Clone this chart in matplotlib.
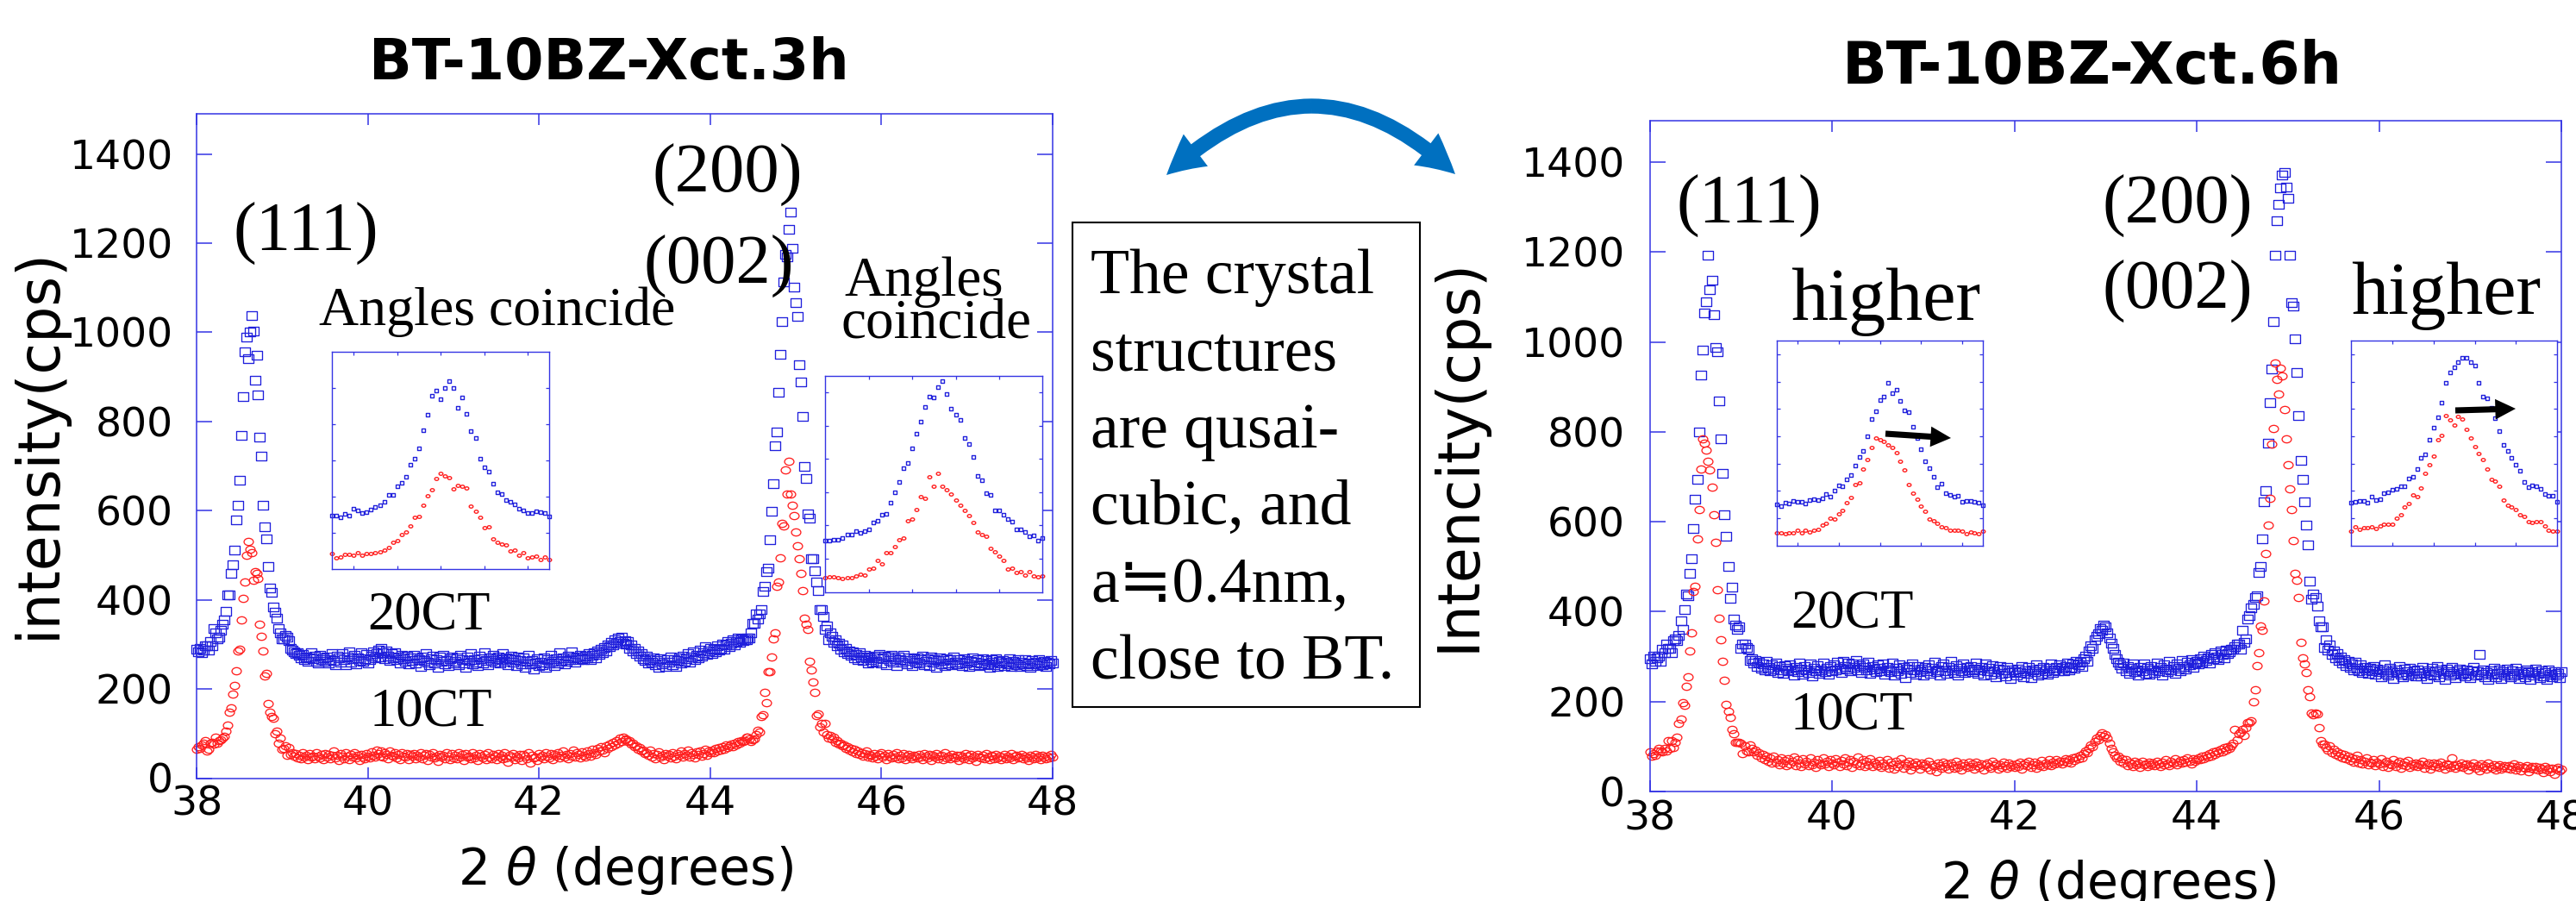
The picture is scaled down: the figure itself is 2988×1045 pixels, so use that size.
import numpy as np
import matplotlib
matplotlib.use("Agg")
import matplotlib.pyplot as plt
from matplotlib.path import Path
from matplotlib.transforms import Affine2D
from matplotlib.patches import FancyArrowPatch, Rectangle

W, H, DPI = 2988, 1045, 100

# scan grid, 0.02 deg step
two_theta = np.round(38.0 + 0.02 * np.arange(501), 2)

# BT-10BZ-Xct, 3 h
cps_3h_20ct = [
    290, 284, 292, 281, 288,
    # 38.10 - 39.10
    297, 297, 288, 307, 297, 335, 326, 312, 316, 331,
    345, 354, 374, 410, 410, 459, 478, 512, 579, 612,
    669, 769, 855, 957, 989, 941, 1000, 1038, 1003, 893,
    949, 860, 765, 723, 612, 563, 537, 474, 426, 416,
    383, 372, 359, 335, 326, 312, 312, 321, 316, 308,
    292,
    # 39.12 - 44.38
    288, 284, 279, 281, 275, 270, 278, 266, 272, 262, 270, 281, 268, 274, 262, 259, 276, 265, 270, 262,
    271, 258, 266, 280, 263, 255, 274, 269, 261, 279, 266, 254, 272, 283, 260, 268, 275, 257, 270, 264, 281, 262, 268, 277, 259,
    266, 274, 283, 270, 279, 288, 272, 291, 281, 268, 286, 274, 263, 279, 270, 282, 265, 272, 259, 276, 268, 262, 274, 257, 269,
    263, 275, 258, 270, 266, 251, 272, 264, 280, 260, 255, 268, 274, 259, 266, 249, 271, 262, 276, 257, 264, 253, 268, 272, 258,
    262, 270, 254, 276, 265, 258, 249, 271, 263, 279, 256, 266, 260, 252, 274, 268, 259, 281, 263, 255, 270, 264, 276, 261, 267,
    272, 258, 266, 279, 262, 270, 255, 268, 274, 260, 265, 252, 271, 263, 257, 269, 248, 262, 275, 256, 264, 244, 259, 268, 253,
    261, 255, 270, 249, 266, 258, 275, 262, 252, 268, 259, 281, 264, 270, 256, 262, 274, 266, 283, 270, 260, 271, 266, 276, 268,
    266, 274, 270, 279, 265, 275, 281, 270, 285, 277, 289, 282, 293, 286, 299, 294, 305, 299, 310, 303, 314, 306, 316, 302, 309,
    300, 306, 292, 299, 286, 291, 280, 285, 273, 279, 268, 263, 274, 258, 266, 261, 270, 254, 263, 249, 267, 256, 261, 251, 265,
    260, 272, 255, 266, 251, 263, 270, 258, 274, 262, 268, 279, 261, 271, 284, 266, 276, 270, 288, 274, 281, 295, 278, 286, 292,
    280, 289, 284, 296, 287, 292, 301, 290, 298, 306, 295, 303, 310, 299, 307, 314, 305, 312, 309,
    # 44.40 - 45.40
    311, 311, 314, 314, 326, 347, 347, 368, 357, 368,
    378, 418, 430, 464, 471, 535, 599, 661, 746, 777,
    865, 951, 1024, 1112, 1174, 1169, 1231, 1269, 1189, 1101,
    1067, 1036, 927, 889, 811, 699, 672, 592, 584, 492,
    492, 466, 440, 421, 378, 378, 363, 333, 342, 311,
    326,
    # 45.42 - 48.00
    318, 305, 311, 296, 302, 290, 298, 284, 291, 279, 286, 275, 283, 270, 278, 266, 281, 272, 263, 276, 269, 258, 272, 265, 261,
    274, 262, 270, 278, 259, 267, 273, 255, 271, 264, 276, 261, 268, 253, 272, 266, 260, 275, 264, 257, 270, 263, 252, 267, 261,
    269, 258, 265, 274, 255, 262, 267, 253, 271, 260, 266, 249, 263, 270, 257, 264, 252, 268, 259, 265, 254, 271, 261, 256, 266,
    260, 253, 267, 258, 264, 250, 262, 269, 255, 261, 266, 252, 259, 268, 254, 263, 257, 249, 265, 260, 254, 267, 251, 262, 258,
    264, 253, 260, 256, 267, 251, 262, 258, 254, 265, 250, 261, 257, 266, 253, 259, 248, 263, 256, 261, 252, 265, 258, 254, 262,
    251, 260, 256, 263, 259,
]

cps_3h_10ct = [
    64, 71, 66, 74, 79,
    84, 60, 65, 79, 81, 76, 92, 78, 84, 86,
    89, 94, 105, 119, 148, 157, 189, 207, 240, 285,
    289, 354, 404, 439, 499, 531, 513, 505, 443, 464,
    459, 448, 346, 318, 285, 229, 235, 167, 148, 138,
    134, 99, 106, 78, 89, 64, 67, 73, 52, 68,
    54,
    58, 49, 55, 46, 52, 44, 57, 48, 51, 42, 55, 47, 50, 43, 58, 49, 45, 53, 41, 56,
    48, 54, 43, 51, 60, 46, 52, 39, 55, 49, 44, 57, 50, 41, 53, 47, 58, 45, 51, 40, 54, 48, 43, 56, 50,
    45, 59, 52, 48, 63, 55, 50, 61, 47, 57, 53, 44, 60, 51, 49, 58, 46, 54, 42, 57, 50, 47, 55, 41, 53,
    49, 56, 44, 52, 47, 58, 43, 51, 55, 40, 53, 48, 57, 45, 50, 38, 54, 47, 52, 44, 58, 49, 42, 55, 46,
    51, 44, 57, 48, 53, 40, 55, 47, 50, 43, 58, 46, 52, 39, 56, 49, 45, 53, 41, 57, 48, 44, 54, 50, 42,
    55, 47, 51, 43, 58, 45, 36, 52, 48, 56, 42, 50, 46, 54, 40, 53, 49, 44, 57, 33, 51, 45, 48, 39, 55,
    47, 52, 44, 58, 50, 46, 55, 41, 53, 49, 57, 45, 51, 60, 48, 54, 43, 56, 50, 62, 47, 58, 53, 45, 59,
    52, 48, 61, 55, 50, 64, 57, 53, 66, 60, 70, 63, 58, 72, 67, 76, 71, 80, 74, 85, 79, 89, 83, 91, 86,
    88, 82, 84, 76, 79, 70, 73, 65, 68, 60, 63, 55, 58, 51, 62, 48, 56, 44, 53, 59, 47, 52, 41, 55, 49,
    54, 46, 58, 50, 43, 56, 52, 60, 47, 55, 51, 62, 48, 57, 53, 45, 59, 54, 61, 50, 56, 64, 52, 60, 58,
    63, 57, 66, 60, 69, 62, 71, 65, 74, 68, 72, 77, 70, 79, 75, 82, 78, 85, 83,
    85, 91, 91, 88, 83, 86, 88, 97, 107, 104,
    138, 143, 192, 169, 238, 238, 271, 312, 326, 430,
    440, 495, 571, 565, 691, 637, 711, 637, 613, 589,
    552, 521, 492, 459, 420, 359, 345, 333, 262, 242,
    216, 192, 140, 145, 116, 123, 104, 123, 97, 90,
    95,
    88, 92, 81, 85, 76, 79, 72, 75, 66, 70, 63, 67, 59, 64, 56, 61, 53, 58, 50, 55, 60, 48, 54, 51, 46,
    55, 49, 44, 53, 58, 47, 51, 42, 56, 50, 45, 53, 48, 57, 43, 52, 46, 55, 41, 50, 54, 47, 44, 52, 49,
    45, 53, 48, 42, 56, 50, 46, 54, 39, 51, 47, 55, 44, 49, 52, 41, 57, 46, 50, 43, 53, 48, 45, 51, 40,
    52, 47, 44, 55, 49, 42, 53, 46, 50, 38, 54, 48, 45, 51, 43, 56, 47, 41, 52, 49, 44, 53, 46, 50, 42,
    48, 53, 44, 50, 46, 55, 41, 49, 52, 45, 47, 54, 43, 50, 46, 39, 51, 48, 44, 53, 45, 49, 42, 52, 47,
    44, 50, 46, 53, 48,
]

# BT-10BZ-Xct, 6 h
cps_6h_20ct = [
    295, 283, 301, 289, 297,
    301, 290, 316, 309, 328, 318, 318, 309, 335, 339,
    335, 347, 379, 360, 404, 440, 435, 486, 518, 585,
    650, 694, 799, 926, 982, 1065, 1090, 1193, 1117, 1138,
    1060, 987, 978, 869, 785, 707, 616, 568, 501, 429,
    454, 383, 370, 360, 366, 318, 328, 328, 320, 316,
    292,
    296, 285, 291, 279, 287, 274, 283, 270, 289, 276, 268, 281, 273, 286, 265, 278, 271, 262, 280, 274,
    268, 282, 271, 259, 277, 266, 285, 272, 261, 279, 270, 264, 283, 257, 275, 268, 280, 263, 271, 286, 266, 274, 260, 278, 269,
    281, 270, 288, 275, 264, 290, 279, 272, 286, 268, 283, 276, 292, 271, 280, 265, 284, 277, 270, 287, 262, 279, 273, 266, 282,
    275, 268, 283, 260, 277, 271, 266, 286, 258, 274, 269, 281, 263, 276, 254, 272, 279, 265, 284, 270, 261, 278, 267, 273, 259,
    276, 269, 282, 263, 274, 287, 266, 271, 258, 279, 284, 268, 262, 277, 290, 271, 265, 280, 259, 274, 268, 283, 264, 276, 270,
    279, 266, 273, 285, 262, 271, 277, 258, 283, 269, 274, 261, 280, 267, 255, 272, 278, 263, 270, 257, 276, 265, 252, 271, 266,
    258, 273, 264, 279, 255, 268, 262, 276, 253, 270, 266, 281, 259, 272, 263, 277, 268, 260, 274, 283, 265, 271, 277, 269, 282,
    274, 268, 279, 286, 271, 277, 283, 275, 290, 281, 287, 278, 296, 302, 289, 312, 325, 319, 338, 346, 351, 362, 358, 370, 366,
    352, 341, 330, 318, 305, 296, 288, 281, 274, 286, 268, 279, 262, 275, 284, 266, 271, 258, 277, 269, 283, 263, 274, 260, 279,
    271, 264, 285, 268, 277, 259, 282, 273, 266, 289, 270, 278, 262, 284, 275, 268, 291, 279, 272, 287, 281, 294, 276, 286, 290,
    283, 296, 288, 301, 292, 298, 285, 304, 296, 309, 300, 293, 312, 305, 298, 314, 307, 311, 316,
    316, 322, 328, 328, 316, 358, 332, 339, 383, 391,
    408, 417, 431, 435, 488, 501, 562, 644, 669, 774,
    865, 940, 1046, 1193, 1269, 1306, 1342, 1372, 1376, 1344,
    1319, 1193, 1088, 1079, 1006, 932, 837, 736, 694, 644,
    593, 549, 467, 427, 440, 431, 412, 379, 366, 366,
    320,
    338, 315, 326, 304, 312, 298, 306, 291, 300, 285, 294, 280, 289, 276, 284, 271, 287, 274, 268, 281, 265, 277, 270, 262, 275,
    268, 279, 261, 273, 266, 256, 270, 282, 263, 259, 274, 267, 251, 270, 264, 278, 260, 255, 272, 266, 258, 275, 262, 269, 257,
    271, 263, 257, 276, 265, 252, 268, 261, 274, 258, 266, 279, 255, 270, 263, 250, 272, 267, 259, 276, 262, 254, 268, 273, 260,
    265, 257, 271, 262, 254, 268, 276, 259, 266, 305, 260, 271, 255, 264, 250, 269, 261, 274, 256, 263, 270, 252, 266, 259, 272,
    262, 255, 269, 258, 274, 263, 251, 267, 260, 256, 271, 264, 249, 266, 259, 273, 262, 254, 268, 257, 264, 250, 270, 261, 256,
    267, 259, 263, 253, 266,
]

cps_6h_10ct = [
    88, 79, 84, 81, 90,
    95, 90, 88, 95, 90, 114, 95, 114, 97, 109,
    120, 151, 162, 198, 191, 234, 255, 313, 353, 444,
    457, 562, 627, 717, 785, 774, 759, 734, 715, 677,
    616, 555, 448, 385, 337, 290, 248, 194, 179, 164,
    139, 128, 109, 109, 109, 107, 84, 101, 90, 88,
    103,
    96, 88, 92, 80, 86, 75, 82, 70, 78, 68, 74, 64, 79, 66, 71, 60, 75, 63, 69, 58,
    72, 61, 67, 76, 58, 70, 64, 55, 73, 62, 68, 57, 74, 60, 66, 53, 71, 63, 59, 75, 61, 68, 56, 70, 64,
    59, 72, 66, 55, 69, 61, 74, 57, 65, 70, 53, 67, 62, 76, 58, 64, 71, 56, 68, 60, 73, 55, 66, 62, 57,
    69, 54, 63, 58, 71, 52, 65, 60, 49, 67, 56, 62, 73, 51, 64, 58, 68, 47, 61, 55, 66, 59, 50, 63, 57,
    62, 53, 67, 48, 60, 56, 44, 63, 57, 51, 66, 55, 61, 49, 64, 58, 52, 68, 54, 60, 47, 63, 57, 53, 65,
    56, 61, 50, 66, 58, 53, 62, 47, 59, 64, 55, 51, 67, 57, 62, 49, 60, 54, 65, 58, 52, 63, 56, 60, 53,
    61, 55, 66, 50, 59, 63, 57, 68, 54, 60, 65, 52, 62, 58, 69, 55, 63, 59, 71, 57, 66, 62, 70, 64, 68,
    61, 67, 72, 65, 70, 63, 74, 69, 77, 72, 80, 75, 84, 90, 87, 96, 104, 100, 112, 118, 115, 124, 130, 122, 127,
    118, 108, 96, 88, 81, 74, 79, 68, 72, 63, 70, 58, 66, 61, 55, 68, 60, 64, 53, 67, 59, 62, 56, 65, 60,
    63, 57, 68, 61, 55, 66, 59, 70, 62, 58, 67, 64, 72, 60, 66, 69, 63, 71, 65, 74, 68, 62, 73, 67, 71,
    75, 70, 78, 73, 81, 76, 84, 79, 88, 82, 90, 86, 94, 89, 97, 93, 100, 96, 102,
    107, 139, 116, 128, 133, 139, 124, 141, 154, 154,
    158, 200, 227, 280, 309, 368, 358, 423, 530, 593,
    652, 772, 808, 953, 917, 884, 942, 924, 850, 785,
    726, 673, 627, 558, 486, 469, 431, 332, 297, 284,
    265, 227, 210, 175, 170, 175, 173, 141, 114, 105,
    105,
    98, 92, 101, 87, 94, 83, 89, 79, 85, 75, 82, 72, 78, 69, 75, 66, 73, 80, 64, 70, 61, 68, 74, 60, 66,
    63, 70, 58, 66, 61, 72, 56, 64, 68, 53, 62, 59, 71, 55, 63, 67, 52, 60, 65, 57, 69, 54, 61, 58, 64,
    55, 62, 59, 67, 52, 60, 64, 50, 58, 63, 56, 61, 53, 66, 57, 49, 62, 59, 54, 75, 58, 51, 60, 56, 63,
    53, 59, 62, 48, 57, 55, 64, 51, 58, 46, 61, 54, 57, 50, 63, 55, 52, 59, 47, 56, 60, 49, 54, 58, 51,
    57, 50, 55, 61, 48, 53, 58, 46, 54, 51, 57, 44, 52, 55, 49, 56, 47, 53, 50, 42, 55, 48, 52, 45, 51,
    38, 49, 54, 46, 50,
]

for s in (cps_3h_20ct, cps_3h_10ct, cps_6h_20ct, cps_6h_10ct):
    assert len(s) == len(two_theta), len(s)

x_ticks = [38, 40, 42, 44, 46, 48]
y_ticks = [0, 200, 400, 600, 800, 1000, 1200, 1400]

BLUE = '#2020dc'
RED = '#ff2020'
AXBLUE = '#3434e4'
SERIF = ['Liberation Serif', 'DejaVu Serif']
NARROW = ['Liberation Sans Narrow', 'DejaVu Sans']
BOXFONT = ['Liberation Serif', 'DejaVu Sans', 'Noto Sans CJK JP']

# slightly wide open markers
rect = Path([(-0.65, -0.5), (0.65, -0.5), (0.65, 0.5), (-0.65, 0.5), (-0.65, -0.5)],
            [Path.MOVETO, Path.LINETO, Path.LINETO, Path.LINETO, Path.CLOSEPOLY])
oval = Path.unit_circle().transformed(Affine2D().scale(1.3, 1.0))

fig = plt.figure(figsize=(W / DPI, H / DPI), dpi=DPI)


def box(x0, y0, x1, y1):
    return [x0 / W, 1 - y1 / H, (x1 - x0) / W, (y1 - y0) / H]


def fxy(x, y):
    return (x / W, 1 - y / H)


def main_panel(rect_px, ytop, ypad, xpad, blue, red):
    ax = fig.add_axes(box(*rect_px))
    ax.plot(two_theta, blue, ls='none', marker=rect, ms=8.8, mfc='none',
            mec=BLUE, mew=0.95, clip_on=False)
    ax.plot(two_theta, red, ls='none', marker=oval, ms=7.8, mfc='none',
            mec=RED, mew=0.95, clip_on=False)
    ax.set_xlim(38, 48)
    ax.set_ylim(0, ytop)
    ax.set_xticks(x_ticks)
    ax.set_yticks(y_ticks)
    ax.tick_params(direction='in', top=True, right=True, color=AXBLUE, width=1.1,
                   labelsize=34, labelcolor='black')
    ax.tick_params(axis='x', length=9.4, pad=xpad)
    ax.tick_params(axis='y', length=13, pad=ypad)
    for sp in ax.spines.values():
        sp.set_color(AXBLUE)
        sp.set_linewidth(1.1)
    return ax


def inset(rect_px, x0, x1, ytop, xt, blue, red):
    ax = fig.add_axes(box(*rect_px))
    sel = (two_theta >= x0 - 1e-6) & (two_theta <= x1 + 1e-6)
    ax.plot(two_theta[sel], np.asarray(blue)[sel], ls='none', marker=rect, ms=3.5,
            mfc='none', mec=BLUE, mew=1.0, clip_on=False)
    ax.plot(two_theta[sel], np.asarray(red)[sel], ls='none', marker=oval, ms=3.3,
            mfc='none', mec=RED, mew=1.0, clip_on=False)
    ax.set_xlim(x0, x1)
    ax.set_ylim(0, ytop)
    ax.set_xticks(xt)
    ax.set_yticks(range(200, ytop, 200))
    ax.tick_params(direction='in', top=True, right=True, length=3, width=0.9,
                   color=AXBLUE, labelbottom=False, labelleft=False)
    for sp in ax.spines.values():
        sp.set_color(AXBLUE)
        sp.set_linewidth(1.0)
    return ax


def label(x, y, s, size, **kw):
    kw.setdefault('family', SERIF)
    kw.setdefault('ha', 'left')
    kw.setdefault('va', 'baseline')
    fig.text(*fxy(x, y), s, fontsize=size, **kw)


# ---- left: 3 h ----
main_panel((228, 132, 1221, 902.5), 1490, 19.5, 5.5, cps_3h_20ct, cps_3h_10ct)
inset((385, 408.3, 637.3, 660), 38.1, 39.1, 1200, [38.2, 38.4, 38.6, 38.8, 39.0],
      cps_3h_20ct, cps_3h_10ct)
inset((957.3, 435.7, 1209.3, 686.7), 44.4, 45.4, 1300, [44.6, 44.8, 45.0, 45.2],
      cps_3h_20ct, cps_3h_10ct)

label(706, 92, 'BT-10BZ-Xct.3h', 47, family='DejaVu Sans', fontweight='bold', ha='center')
label(45, 514, 'intensity(cps)', 48, family=NARROW, rotation=90, ha='center', va='center')
label(725, 1009, '2 $\\theta$ (degrees)', 42, family='DejaVu Sans', ha='center', va='center')
label(271, 291, '(111)', 58)
label(756, 223, '(200)', 58)
label(746, 329, '(002)', 58)
label(370, 377, 'Angles coincide', 46)
label(979, 343, 'Angles', 47)
label(976, 392, 'coincide', 47)
label(426, 729, '20CT', 45)
label(428, 841, '10CT', 45)

# ---- right: 6 h ----
main_panel((1913.6, 140, 2971, 918), 1492, 20.5, 6.5, cps_6h_20ct, cps_6h_10ct)
inset((2061, 395, 2300, 632.7), 38.1, 39.1, 1500, [38.2, 38.4, 38.6, 38.8, 39.0],
      cps_6h_20ct, cps_6h_10ct)
inset((2727.3, 395, 2966, 632.7), 44.4, 45.4, 1500, [44.6, 44.8, 45.0, 45.2],
      cps_6h_20ct, cps_6h_10ct)

label(2427, 97, 'BT-10BZ-Xct.6h', 49, family='DejaVu Sans', fontweight='bold', ha='center')
label(1691, 528, 'Intencity(cps)', 48, family=NARROW, rotation=90, ha='center', va='center')
label(2445, 1026, '2 $\\theta$ (degrees)', 42, family='DejaVu Sans', ha='center', va='center')
label(1944, 259, '(111)', 58)
label(2439, 259, '(200)', 58)
label(2439, 358, '(002)', 58)
label(2077, 371, 'higher', 62)
label(2727, 364, 'higher', 62)
label(2077, 728, '20CT', 45)
label(2077, 845, '10CT', 45)

# shift arrows inside the right insets
for p0, p1 in [((2187, 503), (2263, 508)), ((2848, 476), (2918, 474))]:
    fig.add_artist(FancyArrowPatch(fxy(*p0), fxy(*p1), transform=fig.transFigure,
                                   arrowstyle='simple,head_length=1.0,head_width=1.0,tail_width=0.3',
                                   mutation_scale=17, color='black', lw=0,
                                   shrinkA=0, shrinkB=0, zorder=5))

# comparison box
fig.add_artist(Rectangle(fxy(1244, 820), (1647 - 1244) / W, (820 - 258) / H,
                         transform=fig.transFigure, fill=False, ec='black', lw=1.5))
box_lines = ['The crystal', 'structures', 'are qusai-', 'cubic, and', 'a≒0.4nm,', 'close to BT.']
for i, line in enumerate(box_lines):
    label(1265, 340 + 89.4 * i, line, 53, family=BOXFONT)

# curved double arrow between the panels, drawn as two halves from the apex
apex = (1521, 123)
for ctrl, tip in [((1437.75, 123.25), (1353, 203)), ((1605, 122.75), (1688, 202))]:
    path = Path([fxy(*apex), fxy(*ctrl), fxy(*tip)], [Path.MOVETO, Path.CURVE3, Path.CURVE3])
    fig.add_artist(FancyArrowPatch(path=path, transform=fig.transFigure,
                                   arrowstyle='simple,head_length=1.0,head_width=1.05,tail_width=0.39',
                                   mutation_scale=32, color='#0070c0', lw=0))

fig.savefig('out.png', dpi=DPI)
